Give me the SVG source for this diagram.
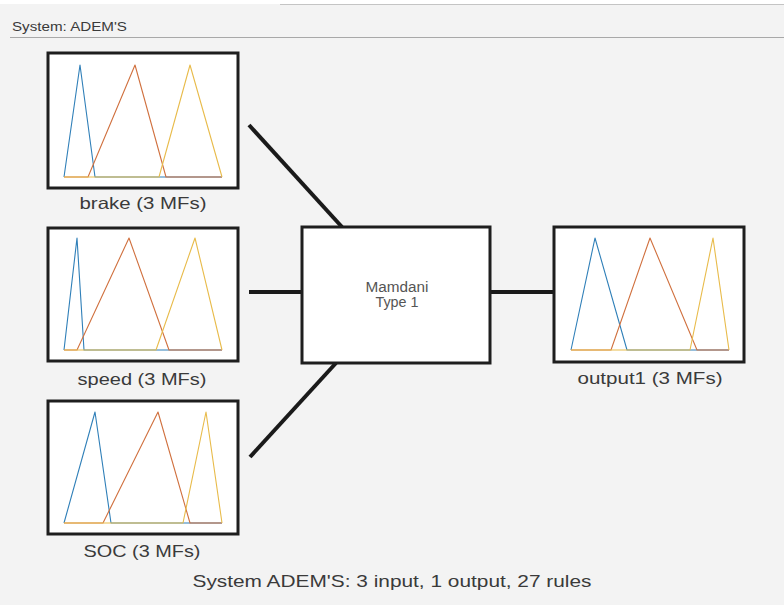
<svg xmlns="http://www.w3.org/2000/svg" width="784" height="605" viewBox="0 0 784 605">
<style>
.box{fill:#ffffff;stroke:#1e1e1e;stroke-width:3}
.conn{stroke:#1a1a1a;stroke-width:4;fill:none}
.lbl{font-family:"Liberation Sans",Arial,sans-serif;font-size:16.5px;fill:#3a3a3a;text-anchor:middle}
.mf{fill:none;stroke-width:1.1;stroke-linejoin:round}
.b{stroke:#2f7fb8}
.o{stroke:#d0703e}
.y{stroke:#e8bb4a}
</style>
<rect x="0" y="0" width="784" height="605" fill="#f3f3f3"/>
<rect x="0" y="0" width="784" height="4" fill="#ffffff"/>
<line x1="280" y1="4.5" x2="784" y2="4.5" stroke="#c4c4c4" stroke-width="1"/>
<text x="12" y="31" font-family="Liberation Sans,Arial,sans-serif" font-size="12.5" fill="#3a3a3a" textLength="115" lengthAdjust="spacingAndGlyphs">System: ADEM'S</text>
<line x1="10" y1="37.5" x2="784" y2="37.5" stroke="#a8a8a8" stroke-width="1.2"/>

<g id="connectors">
<line class="conn" x1="249" y1="125" x2="342" y2="227"/>
<line class="conn" x1="249" y1="292" x2="302" y2="292"/>
<line class="conn" x1="250" y1="457" x2="336" y2="363"/>
<line class="conn" x1="490" y1="292" x2="553" y2="292"/>
</g>

<g id="brake">
<rect class="box" x="48" y="53" width="190" height="135"/>
<polyline class="mf b" points="64,177 80,65 95,177 222,177"/>
<polyline class="mf o" points="64,177 88,177 135,65 166,177 222,177"/>
<polyline class="mf y" points="64,177 159,177 190,65 222,177"/>
<text class="lbl" x="143" y="209" textLength="127" lengthAdjust="spacingAndGlyphs">brake (3 MFs)</text>
</g>

<g id="speed">
<rect class="box" x="48" y="228" width="190" height="133"/>
<polyline class="mf b" points="64,350 77,238 84,350 222,350"/>
<polyline class="mf o" points="64,350 77,350 129,238 169,350 222,350"/>
<polyline class="mf y" points="64,350 156,350 195,238 222,350"/>
<text class="lbl" x="142" y="385" textLength="129" lengthAdjust="spacingAndGlyphs">speed (3 MFs)</text>
</g>

<g id="SOC">
<rect class="box" x="48" y="401" width="190" height="133"/>
<polyline class="mf b" points="64,523 95,412 111,523 222,523"/>
<polyline class="mf o" points="64,523 103,523 158,412 190,523 222,523"/>
<polyline class="mf y" points="64,523 183,523 206,412 222,523"/>
<text class="lbl" x="142" y="557" textLength="117" lengthAdjust="spacingAndGlyphs">SOC (3 MFs)</text>
</g>

<g id="mamdani">
<rect class="box" x="302" y="227" width="188" height="136"/>
<text x="397" y="292" font-family="Liberation Sans,Arial,sans-serif" font-size="14" fill="#555555" text-anchor="middle" textLength="63" lengthAdjust="spacingAndGlyphs">Mamdani</text>
<text x="397" y="307" font-family="Liberation Sans,Arial,sans-serif" font-size="14" fill="#555555" text-anchor="middle" textLength="43" lengthAdjust="spacingAndGlyphs">Type 1</text>
</g>

<g id="output1">
<rect class="box" x="554" y="227" width="190" height="135"/>
<polyline class="mf b" points="571,350 595,238 627,350 729,350"/>
<polyline class="mf o" points="571,350 611,350 650,238 697,350 729,350"/>
<polyline class="mf y" points="571,350 690,350 713,238 729,350"/>
<text class="lbl" x="650" y="384" textLength="145" lengthAdjust="spacingAndGlyphs">output1 (3 MFs)</text>
</g>

<text class="lbl" x="392" y="587" textLength="399" lengthAdjust="spacingAndGlyphs">System ADEM'S: 3 input, 1 output, 27 rules</text>
</svg>
